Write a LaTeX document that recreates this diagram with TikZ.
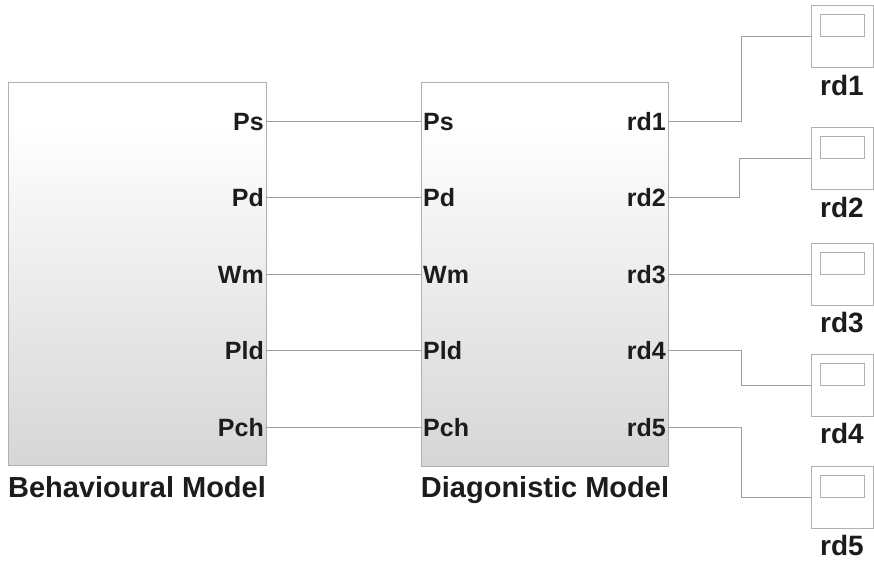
\documentclass[tikz,border=0pt]{standalone}
\usepackage{fontspec}
\setmainfont{Liberation Sans}
\definecolor{edgegray}{HTML}{B0B0B0}
\definecolor{wiregray}{HTML}{9E9E9E}
\definecolor{ink}{HTML}{1C1C1C}
\definecolor{fadegray}{HTML}{D6D6D6}
\pgfdeclareverticalshading{blockfade}{100bp}{color(0bp)=(fadegray); color(25bp)=(fadegray); color(34bp)=(fadegray!80); color(70bp)=(white); color(100bp)=(white)}
\begin{document}
\begin{tikzpicture}[x=1pt,y=-1pt,
  block/.style={draw=edgegray, line width=1.1pt, shading=blockfade, inner sep=0pt, anchor=north west},
  scopebox/.style={draw=edgegray, line width=1pt, fill=white, minimum width=62pt, minimum height=62pt, inner sep=0pt},
  screen/.style={draw=edgegray, line width=1pt, minimum width=44pt, minimum height=22pt, inner sep=0pt},
  port/.style={font=\fontsize{25}{25}\selectfont\bfseries, text=ink, inner sep=0pt},
  title/.style={font=\fontsize{29}{29}\selectfont\bfseries, text=ink, inner sep=0pt, anchor=base},
  wire/.style={draw=wiregray, line width=1pt}]
\useasboundingbox (0,0) rectangle (874,561);

% model blocks
\node[block, minimum width=258pt, minimum height=383pt] (beh) at (8,82) {};
\node[block, minimum width=247pt, minimum height=384pt] (diag) at (421,82) {};
\node[title] (behT) at (137,497) {Behavioural Model};
\node[title] (diagT) at (545,497) {Diagonistic Model};

% signal rows
\foreach \name/\y in {Ps/122, Pd/198, Wm/274, Pld/350, Pch/427}{
  \coordinate (bo\name) at (266,\y);
  \coordinate (di\name) at (421,\y);
  \node[port, anchor=base east] (bl\name) at (264,\y+9) {\name};
  \node[port, anchor=base west] (dl\name) at (423,\y+9) {\name};
  \draw[wire] (bo\name) -- (di\name);
}

% residual outputs
\foreach \i/\y in {1/122, 2/198, 3/274, 4/350, 5/427}{
  \coordinate (ro\i) at (668,\y);
  \node[port, anchor=base east] (rl\i) at (666,\y+9) {rd\i};
}

% scopes
\foreach \i/\y in {1/37, 2/159, 3/274, 4/385, 5/497}{
  \node[scopebox] (sc\i) at (842,\y) {};
  \node[screen, anchor=north] (scr\i) at ([yshift=-9pt]sc\i.north) {};
  \node[title, font=\fontsize{28}{28}\selectfont\bfseries] (scl\i) at ([yshift=-27pt]sc\i.south) {rd\i};
}

% residual wiring
\draw[wire] (ro1) -| (741,37) -- (sc1.west);
\draw[wire] (ro2) -| (739,159) -- (sc2.west);
\draw[wire] (ro3) -- (sc3.west);
\draw[wire] (ro4) -| (741,385) -- (sc4.west);
\draw[wire] (ro5) -| (741,497) -- (sc5.west);
\end{tikzpicture}
\end{document}
